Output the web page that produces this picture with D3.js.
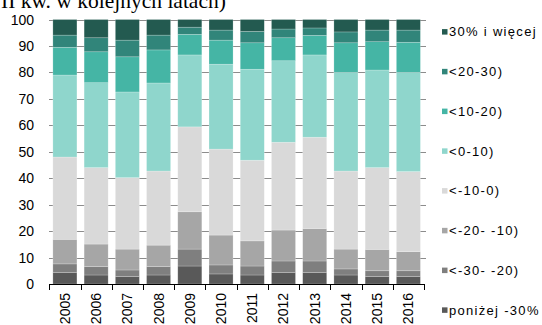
<!DOCTYPE html>
<html>
<head>
<meta charset="utf-8">
<script src="https://cdn.jsdelivr.net/npm/d3@7/dist/d3.min.js"></script>
<style>
  html, body { margin: 0; padding: 0; background: #fff; }
  svg { display: block; }
</style>
</head>
<body>
<svg id="chart" width="542" height="325"></svg>
<script>
// Years on the x axis
const years = ["2005","2006","2007","2008","2009","2010","2011","2012","2013","2014","2015","2016"];

// Classes, bottom of the stack first
const categories = ["poniżej -30%", "<-30- -20)", "<-20- -10)", "<-10-0)", "<0-10)", "<10-20)", "<20-30)", "30% i więcej"];

// Share of each class per year (%)
const below30  = [4.4, 3.4, 2.8, 3.4, 6.8, 3.8, 3.4, 4.3, 4.3, 3.4, 2.8, 2.8];
const m30m20   = [3.2, 3.2, 2.5, 3.2, 6.4, 3.4, 3.4, 4.4, 4.4, 2.3, 2.2, 2.2];
const m20m10   = [9.3, 8.5, 7.9, 8.1, 14.1, 11.3, 9.5, 11.7, 12.3, 7.5, 8.1, 7.2];
const m10to0   = [31.1, 28.9, 27.0, 28.0, 32.1, 32.5, 30.5, 33.2, 34.5, 29.5, 30.9, 30.3];
const p0to10   = [31.0, 32.1, 32.4, 33.3, 27.2, 32.1, 34.4, 30.8, 31.1, 37.3, 36.9, 37.5];
const p10to20  = [10.5, 11.7, 13.3, 12.5, 7.8, 9.1, 10.0, 8.7, 7.4, 11.2, 10.7, 11.4];
const p20to30  = [4.6, 5.3, 6.3, 5.6, 2.7, 3.8, 4.3, 3.3, 2.8, 4.1, 4.4, 4.6];
const above30  = [5.9, 6.9, 7.8, 5.9, 2.9, 4.0, 4.5, 3.6, 3.2, 4.7, 4.0, 4.0];

const seriesValues = [below30, m30m20, m20m10, m10to0, p0to10, p10to20, p20to30, above30];

const colors = ["#595959", "#7f7f7f", "#a6a6a6", "#d9d9d9", "#8fd6cc", "#45b5a5", "#31857a", "#235a50"];

const yTicks = [0, 10, 20, 30, 40, 50, 60, 70, 80, 90, 100];

// Build rows for the stack layout
const rows = years.map((y, i) => {
  const r = { year: y };
  categories.forEach((c, k) => { r[c] = seriesValues[k][i]; });
  return r;
});

const svg = d3.select("#chart");
const font = "'Liberation Sans', Arial, sans-serif";

const x = d3.scaleBand().domain(years).range([49.3, 424]).paddingInner(0.23).paddingOuter(0.115);
const y = d3.scaleLinear().domain([0, 100]).range([284, 19.5]);

// Heading line (runs off the top edge)
svg.append("text")
  .attr("x", 1).attr("y", 7.5)
  .attr("font-family", "'Liberation Serif', 'Times New Roman', serif")
  .attr("font-size", 21.5)
  .attr("fill", "#000")
  .text("II kw. w kolejnych latach)");

// Horizontal gridlines
svg.append("g")
  .selectAll("line")
  .data(yTicks.filter(t => t > 0))
  .join("line")
  .attr("x1", 49).attr("x2", 426)
  .attr("y1", d => Math.round(y(d)) + 0.5).attr("y2", d => Math.round(y(d)) + 0.5)
  .attr("stroke", "#8c8c8c").attr("stroke-width", 1);

// Y tick labels
svg.append("g")
  .selectAll("text")
  .data(yTicks)
  .join("text")
  .attr("x", 34).attr("y", d => y(d) + 5)
  .attr("text-anchor", "end")
  .attr("font-family", font).attr("font-size", 14).attr("fill", "#000")
  .text(d => d);

// Stacked bars
const stack = d3.stack().keys(categories);
const layers = stack(rows);

svg.append("g")
  .selectAll("g")
  .data(layers)
  .join("g")
  .attr("fill", (d, i) => colors[i])
  .selectAll("rect")
  .data(d => d)
  .join("rect")
  .attr("x", d => x(d.data.year))
  .attr("width", x.bandwidth())
  .attr("y", d => y(d[1]))
  .attr("height", d => y(d[0]) - y(d[1]))
  .attr("stroke", "rgba(255,255,255,0.35)")
  .attr("stroke-width", 0.6);

// X axis line and tick marks between bands
const step = x.step();
const axisG = svg.append("g");
axisG.append("line")
  .attr("x1", 49).attr("x2", 424.5)
  .attr("y1", 284.5).attr("y2", 284.5)
  .attr("stroke", "#000").attr("stroke-width", 1);
const tickXs = years.map(yr => x(yr) - step * x.paddingInner() / 2).concat([x(years[years.length - 1]) + x.bandwidth() + step * x.paddingInner() / 2]);
axisG.selectAll("line.tk")
  .data(tickXs)
  .join("line")
  .attr("class", "tk")
  .attr("x1", d => Math.round(d) + 0.5).attr("x2", d => Math.round(d) + 0.5)
  .attr("y1", 284).attr("y2", 290)
  .attr("stroke", "#000").attr("stroke-width", 1);

// X labels, rotated
svg.append("g")
  .selectAll("text")
  .data(years)
  .join("text")
  .attr("transform", d => `translate(${x(d) + x.bandwidth() / 2 + 5},293) rotate(-90)`)
  .attr("text-anchor", "end")
  .attr("font-family", font).attr("font-size", 14).attr("fill", "#000")
  .text(d => d);

// Legend, top class first
const legendItems = categories.map((c, i) => ({ name: c, color: colors[i] })).reverse();
const legend = svg.append("g")
  .selectAll("g")
  .data(legendItems)
  .join("g")
  .attr("transform", (d, i) => `translate(442,${31.8 + i * 39.75})`);
legend.append("rect")
  .attr("x", 0).attr("y", -2.7).attr("width", 5.5).attr("height", 5.5)
  .attr("fill", d => d.color);
legend.append("text")
  .attr("x", 7).attr("y", 4.5)
  .attr("font-family", font).attr("font-size", 13).attr("fill", "#000")
  .attr("letter-spacing", 1.3)
  .text(d => d.name);
</script>
</body>
</html>
